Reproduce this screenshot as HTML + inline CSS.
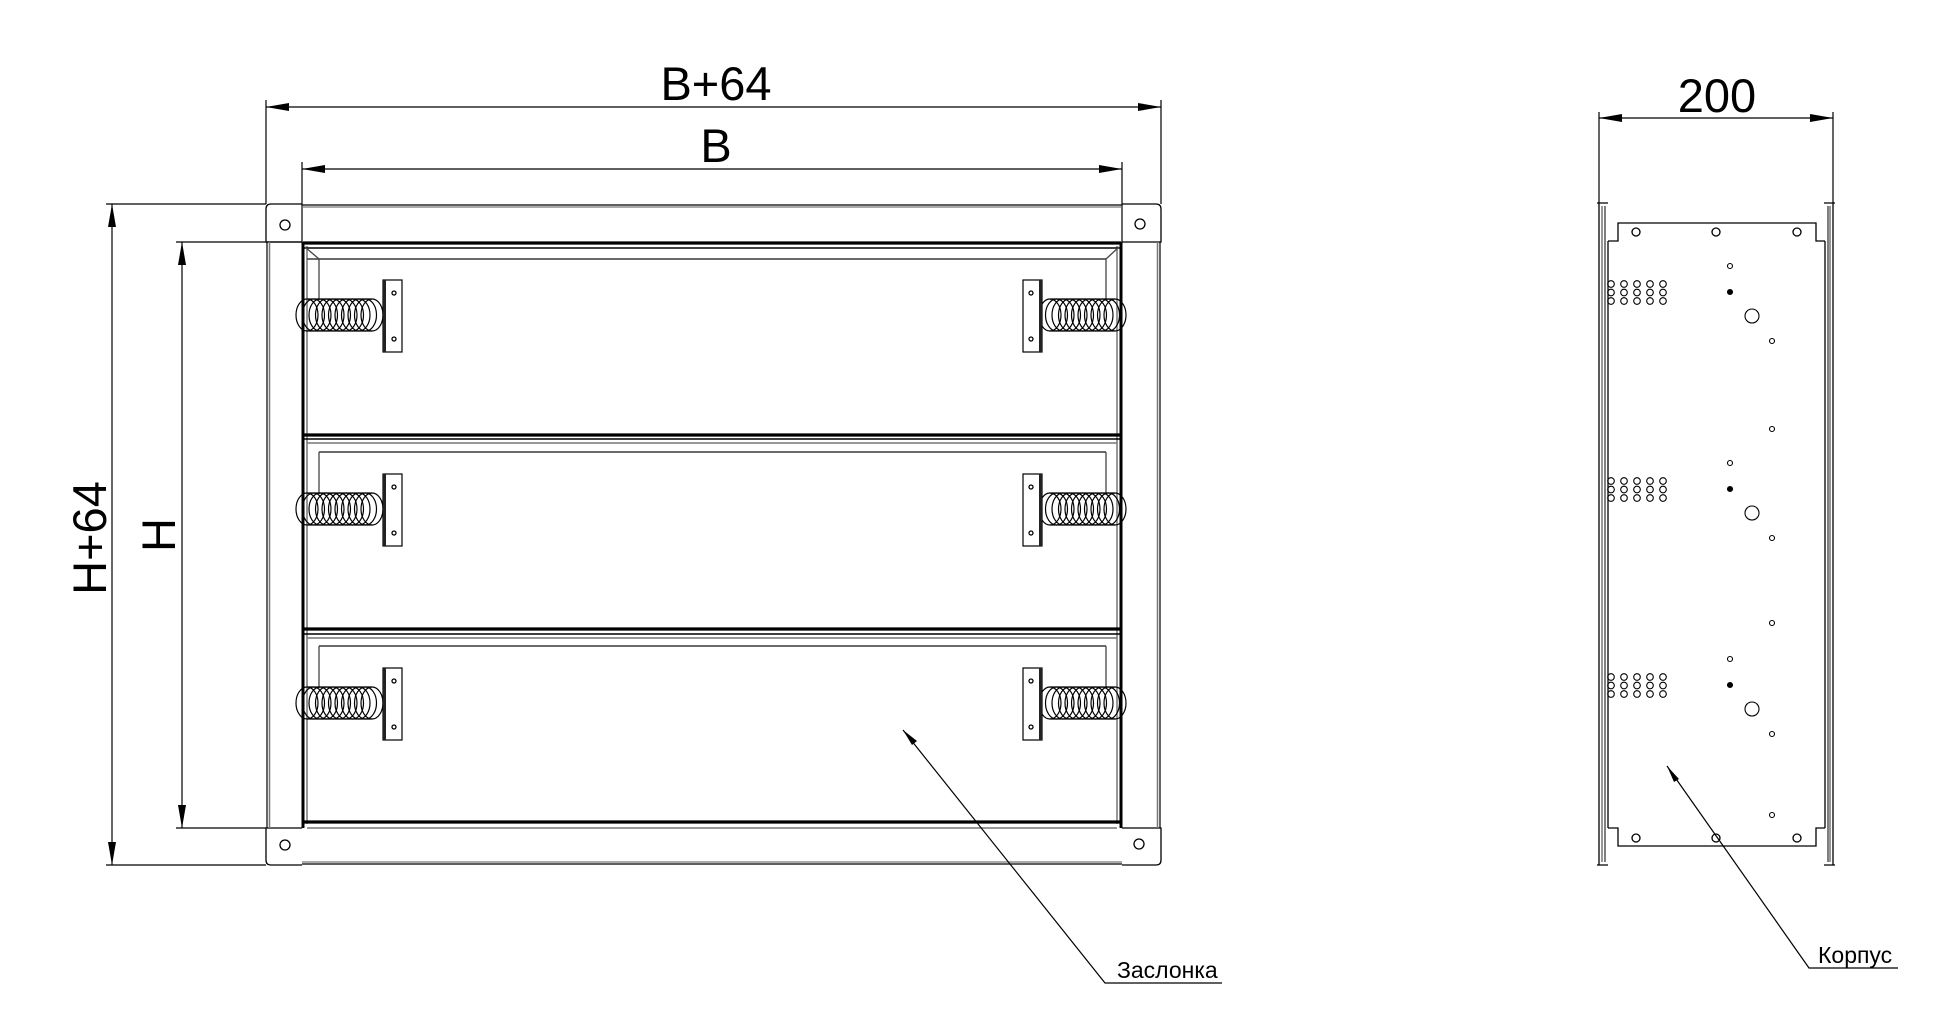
<!DOCTYPE html>
<html><head><meta charset="utf-8"><style>
html,body{margin:0;padding:0;background:#fff;}
svg{display:block;}
text{font-family:"Liberation Sans","DejaVu Sans",sans-serif;fill:#000;}
</style></head><body>
<svg width="1949" height="1017" viewBox="0 0 1949 1017" xmlns="http://www.w3.org/2000/svg">
<defs>
<g id="spr" fill="none" stroke="#000" stroke-width="1.2">
<ellipse cx="4" cy="0" rx="11" ry="16"/><ellipse cx="10.5" cy="0" rx="11" ry="16"/><ellipse cx="17" cy="0" rx="11" ry="16"/><ellipse cx="23.5" cy="0" rx="11" ry="16"/><ellipse cx="30" cy="0" rx="11" ry="16"/><ellipse cx="36.5" cy="0" rx="11" ry="16"/><ellipse cx="43" cy="0" rx="11" ry="16"/><ellipse cx="49.5" cy="0" rx="11" ry="16"/><ellipse cx="56" cy="0" rx="11" ry="16"/><ellipse cx="62.5" cy="0" rx="11" ry="16"/><ellipse cx="69" cy="0" rx="11" ry="16"/>
<path d="M4,-16 H69 M4,16 H69"/>
</g>
<g id="brL"><rect x="0" y="-36" width="19" height="72" fill="#fff" stroke="#000" stroke-width="1.2"/><rect x="0" y="-36" width="3" height="72" fill="#222"/><circle cx="11" cy="-23" r="2" fill="none" stroke="#000" stroke-width="1.3"/><circle cx="11" cy="23" r="2" fill="none" stroke="#000" stroke-width="1.3"/></g>
<g id="brR"><rect x="0" y="-36" width="19" height="72" fill="#fff" stroke="#000" stroke-width="1.2"/><rect x="16" y="-36" width="3" height="72" fill="#222"/><circle cx="8" cy="-23" r="2" fill="none" stroke="#000" stroke-width="1.3"/><circle cx="8" cy="23" r="2" fill="none" stroke="#000" stroke-width="1.3"/></g>
<g id="grid" fill="none" stroke="#000" stroke-width="1.1">
<circle cx="1611" cy="0" r="3.3"/><circle cx="1624" cy="0" r="3.3"/><circle cx="1637" cy="0" r="3.3"/><circle cx="1650" cy="0" r="3.3"/><circle cx="1663" cy="0" r="3.3"/>
<circle cx="1611" cy="8.5" r="3.3"/><circle cx="1624" cy="8.5" r="3.3"/><circle cx="1637" cy="8.5" r="3.3"/><circle cx="1650" cy="8.5" r="3.3"/><circle cx="1663" cy="8.5" r="3.3"/>
<circle cx="1611" cy="17" r="3.3"/><circle cx="1624" cy="17" r="3.3"/><circle cx="1637" cy="17" r="3.3"/><circle cx="1650" cy="17" r="3.3"/><circle cx="1663" cy="17" r="3.3"/>
</g>
<g id="hg" fill="none" stroke="#000" stroke-width="1.1">
<circle cx="1730" cy="0" r="2.5"/><circle cx="1730" cy="26" r="2.5" fill="#000"/><circle cx="1752" cy="50" r="7"/><circle cx="1772" cy="75" r="2.5"/>
</g>
</defs>

<g stroke="#000" fill="none">
<path d="M266,100 V204 M1161,100 V204 M302,162 V242 M1122,162 V242" stroke-width="1.2"/>
<path d="M106,204 H266 M176,242 H302 M176,828 H266 M106,865 H266" stroke-width="1.2"/>
<path d="M266,107 H1161 M302,169 H1122 M112,204 V865 M182,242 V828" stroke-width="1.2"/>
</g>
<g fill="#000">
<path d="M266,107 l23,-4 v8z M1161,107 l-23,-4 v8z M302,169 l23,-4 v8z M1122,169 l-23,-4 v8z"/>
<path d="M112,204 l-4,23 h8z M112,865 l-4,-23 h8z M182,242 l-4,23 h8z M182,828 l-4,-23 h8z"/>
</g>
<text x="716" y="100" font-size="47" text-anchor="middle">B+64</text>
<text x="716" y="162" font-size="47" text-anchor="middle">B</text>
<text transform="translate(106,538) rotate(-90)" font-size="47" text-anchor="middle">H+64</text>
<text transform="translate(175,535) rotate(-90)" font-size="47" text-anchor="middle">H</text>

<g fill="none" stroke="#000" stroke-width="1.3">
<path d="M302,204 H271 Q266,204 266,209 V242 H302"/>
<path d="M1122,204 H1156 Q1161,204 1161,209 V242 H1122"/>
<path d="M302,865 H271 Q266,865 266,860 V828 H302"/>
<path d="M1122,865 H1156 Q1161,865 1161,860 V828 H1122"/>
<circle cx="285" cy="225" r="5"/><circle cx="1140" cy="224" r="5"/>
<circle cx="285" cy="845" r="5"/><circle cx="1139" cy="844" r="5"/>
</g>
<g fill="none">
<path d="M302,205 H1122 M302,864 H1122" stroke="#000" stroke-width="1.3"/>
<path d="M302,207 H1122 M302,862 H1122" stroke="#777" stroke-width="1.3"/>
<path d="M267,242 V828 M1160,242 V828" stroke="#000" stroke-width="1.2"/>
<path d="M269.5,242 V828 M1157.5,242 V828" stroke="#777" stroke-width="1.5"/>
<path d="M303,242 V828 M1121,242 V828" stroke="#000" stroke-width="3"/>
<path d="M307,246 V824 M1117,246 V824" stroke="#777" stroke-width="1.5"/>
<path d="M303,243 H1121 M303,435 H1121 M303,629 H1121 M303,822 H1121" stroke="#000" stroke-width="3.2"/>
<path d="M303,248 H1121 M303,439 H1121 M303,634 H1121" stroke="#000" stroke-width="1.6"/>
<path d="M307,443 H1117 M307,638 H1117 M307,828 H1117" stroke="#777" stroke-width="1.5"/>
<path d="M307,259 H1106 M319,452 H1106 M319,646 H1106" stroke="#555" stroke-width="1.8"/>
<path d="M305,247 L319,259 V300 M1119,247 L1106,259 V300 M319,452 V494 M1106,452 V494 M319,646 V688 M1106,646 V688" stroke="#444" stroke-width="1.3"/>
</g>
<use href="#spr" x="303" y="315"/><use href="#spr" x="303" y="509"/><use href="#spr" x="303" y="703"/>
<use href="#spr" x="1046" y="315"/><use href="#spr" x="1046" y="509"/><use href="#spr" x="1046" y="703"/>
<use href="#brL" x="383" y="316"/><use href="#brL" x="383" y="510"/><use href="#brL" x="383" y="704"/>
<use href="#brR" x="1023" y="316"/><use href="#brR" x="1023" y="510"/><use href="#brR" x="1023" y="704"/>

<path d="M903,730 L1105,983 H1222" stroke="#000" stroke-width="1.2" fill="none"/>
<path d="M903,730 l14,11 l-5,4z" fill="#000"/>
<text x="1117" y="978" font-size="23">Заслонка</text>

<g stroke="#000" fill="none" stroke-width="1.2">
<path d="M1599,112 V203 M1833,112 V203 M1599,118 H1833"/>
</g>
<path d="M1599,118 l23,-4 v8z M1833,118 l-23,-4 v8z" fill="#000"/>
<text x="1717" y="112" font-size="47" text-anchor="middle">200</text>
<g fill="none" stroke="#000" stroke-width="1.3">
<path d="M1597,203 H1608 M1599,203 V865 M1597,865 H1608 M1835,203 H1824 M1833,203 V865 M1835,865 H1824"/>
<path d="M1602,206 V862 M1830,206 V862" stroke="#777" stroke-width="1.5"/>
<path d="M1608,241 H1618 V223 H1816 V241 H1825"/>
<path d="M1608,828 H1618 V846 H1816 V828 H1825"/>
<path d="M1608,241 V828 M1825,241 V828"/>
<path d="M1605,206 V862 M1828,206 V862" stroke-width="1"/>
<circle cx="1636" cy="232" r="4"/><circle cx="1716" cy="232" r="4"/><circle cx="1797" cy="232" r="4"/>
<circle cx="1636" cy="838" r="4"/><circle cx="1716" cy="838" r="4"/><circle cx="1797" cy="838" r="4"/>
<circle cx="1772" cy="429" r="2.5" stroke-width="1.1"/><circle cx="1772" cy="623" r="2.5" stroke-width="1.1"/><circle cx="1772" cy="815" r="2.5" stroke-width="1.1"/>
</g>
<use href="#grid" y="284"/><use href="#grid" y="481"/><use href="#grid" y="677"/>
<use href="#hg" y="266"/><use href="#hg" y="463"/><use href="#hg" y="659"/>

<path d="M1667,766 L1809,968 H1898" stroke="#000" stroke-width="1.2" fill="none"/>
<path d="M1667,766 l12,13 l-5,3z" fill="#000"/>
<text x="1818" y="963" font-size="23">Корпус</text>
</svg>
</body></html>
